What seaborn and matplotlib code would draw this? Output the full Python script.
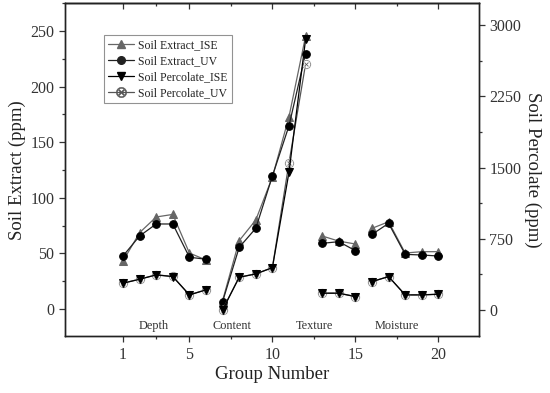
import numpy as np
import pandas as pd
import seaborn as sns
import matplotlib.pyplot as plt
from matplotlib.lines import Line2D
from matplotlib.ticker import FixedLocator, MultipleLocator

# data
group_no = [1, 2, 3, 4, 5, 6, 7, 8, 9, 10, 11, 12, 13, 14, 15, 16, 17, 18, 19, 20]
group_name = ['Depth'] * 6 + ['Content'] * 6 + ['Texture'] * 3 + ['Moisture'] * 5
extract_ise = [43, 68.6, 82.7, 85, 50.3, 44, 7.5, 61.4, 80, 118.6, 172.8, 245.3,
               65.6, 61, 58.4, 72.5, 78.4, 50.3, 51.5, 51.5]
extract_uv = [47.6, 65.6, 76.4, 76.4, 46.5, 44.7, 6.6, 55.4, 72.5, 119.5, 164.7, 229.7,
              59, 60.5, 52.4, 67, 77, 49.1, 48.5, 47.6]
percolate_ise = [281, 323, 369, 351, 158, 211, 0, 344, 379, 445, 1450, 2850,
                 176, 176, 140, 298, 351, 158, 158, 165]
percolate_uv = [283, 324, 370, 353, 159, 213, 3, 345, 380, 446, 1551, 2590,
                177, 177, 141, 299, 352, 159, 159, 166]

df = pd.DataFrame({'x': group_no, 'grp': group_name,
                   'ext_ise': extract_ise, 'ext_uv': extract_uv,
                   'per_ise': percolate_ise, 'per_uv': percolate_uv})

sns.set_style('ticks')
plt.rcParams['font.family'] = ['Liberation Serif', 'DejaVu Serif']

fig, ax = plt.subplots(figsize=(5.5, 3.93), dpi=100)
fig.subplots_adjust(left=0.118, right=0.871, top=0.992, bottom=0.144)
ax2 = ax.twinx()

ms = 5.5
otimes = '$\\otimes$'
sns.lineplot(data=df, x='x', y='ext_ise', units='grp', estimator=None, ax=ax,
             color='#666666', marker='^', markersize=ms, markeredgecolor='#666666',
             linewidth=0.9, zorder=3)
sns.lineplot(data=df, x='x', y='ext_uv', units='grp', estimator=None, ax=ax,
             color='#222222', marker='o', markersize=ms, markeredgecolor='black',
             markerfacecolor='black', linewidth=0.9, zorder=4)
sns.lineplot(data=df, x='x', y='per_uv', units='grp', estimator=None, ax=ax2,
             color='#555555', marker=otimes, markersize=ms + 1.2, markeredgewidth=0.3,
             linewidth=0.9, zorder=2)
sns.lineplot(data=df, x='x', y='per_ise', units='grp', estimator=None, ax=ax2,
             color='black', marker='v', markersize=ms + 0.3, markeredgecolor='black',
             linewidth=0.9, zorder=3)

ax.set_xlim(-2.5, 22.45)
ax.set_ylim(-24.7, 275)
ax2.set_ylim(-279, 3232)

ax.set_xticks([1, 5, 10, 15, 20])
ax.xaxis.set_minor_locator(FixedLocator([3, 7.5, 12.5, 17.5]))
ax.yaxis.set_major_locator(MultipleLocator(50))
ax.yaxis.set_minor_locator(MultipleLocator(25))
ax2.yaxis.set_major_locator(MultipleLocator(750))
ax2.yaxis.set_minor_locator(MultipleLocator(375))

tick_col = '#333333'
for a in (ax, ax2):
    a.tick_params(which='major', length=4, width=0.9, colors=tick_col, labelsize=11.5,
                  labelcolor='#333333', direction='out')
    a.tick_params(which='minor', length=2.5, width=0.9, colors=tick_col, direction='out')
    for s in a.spines.values():
        s.set_visible(True)
        s.set_linewidth(1.0)
        s.set_color('#222222')

top = ax.secondary_xaxis('top')
top.set_xticks([1, 5, 10, 15, 20])
top.xaxis.set_minor_locator(FixedLocator([3, 7.5, 12.5, 17.5]))
top.tick_params(which='major', direction='in', length=4, width=0.9, colors=tick_col,
                labeltop=False)
top.tick_params(which='minor', direction='in', length=2.5, width=0.9, colors=tick_col)
top.spines['top'].set_linewidth(1.0)

ax.set_xlabel('Group Number', fontsize=13.5, color='#222222', labelpad=2)
ax.set_ylabel('Soil Extract (ppm)', fontsize=13.5, color='#222222', labelpad=3)
ax2.set_ylabel('Soil Percolate (ppm)', fontsize=13.5, color='#222222', rotation=-90,
               labelpad=14)

label_x = [2.87, 7.57, 12.56, 17.5]
for name, lx in zip(['Depth', 'Content', 'Texture', 'Moisture'], label_x):
    ax.text(lx, -15.3, name, ha='center', va='center', fontsize=8.8, color='#333333')

handles = [
    Line2D([], [], color='#666666', marker='^', markersize=ms, linewidth=0.9),
    Line2D([], [], color='#222222', marker='o', markersize=ms, linewidth=0.9),
    Line2D([], [], color='black', marker='v', markersize=ms, linewidth=0.9),
    Line2D([], [], color='#555555', marker=otimes, markersize=ms + 2,
           markeredgewidth=0.3, linewidth=0.9),
]
labels = ['Soil Extract_ISE', 'Soil Extract_UV', 'Soil Percolate_ISE', 'Soil Percolate_UV']
leg = ax.legend(handles, labels, loc='upper left', bbox_to_anchor=(0.095, 0.905),
                fontsize=8.5, frameon=True, fancybox=False, edgecolor='#777777',
                handlelength=2.2, handletextpad=0.3, labelspacing=0.35,
                borderpad=0.35, borderaxespad=0)
leg.get_frame().set_linewidth(0.8)
for t in leg.get_texts():
    t.set_color('#222222')

fig.savefig('out.png', dpi=100)
